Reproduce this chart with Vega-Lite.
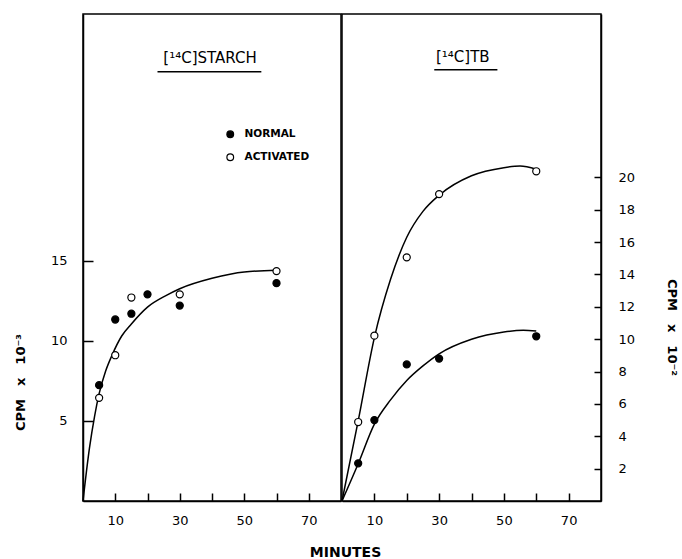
{
  "$schema": "https://vega.github.io/schema/vega-lite/v6.json",
  "padding": {"left": 13, "top": 13, "right": 5, "bottom": 5},
  "background": "white",
  "config": {
    "view": {"stroke": "black", "strokeWidth": 1.5},
    "font": "DejaVu Sans",
    "axis": {
      "domainColor": "black", "domainWidth": 1.5, "tickColor": "black", "tickWidth": 1.5,
      "labelFont": "DejaVu Sans", "labelFontSize": 13, "labelColor": "black",
      "titleFont": "DejaVu Sans", "titleFontSize": 12, "titleFontWeight": "bold", "titleColor": "black",
      "grid": false
    }
  },
  "title": {"text": "MINUTES", "orient": "bottom", "anchor": "middle", "font": "DejaVu Sans", "fontSize": 14, "fontWeight": "bold", "color": "black", "offset": 18, "letterSpacing": 1},
  "datasets": {
    "points": [
      {"panel": "STARCH", "group": "NORMAL", "minute": 5, "cpm": 7.23},
      {"panel": "STARCH", "group": "NORMAL", "minute": 10, "cpm": 11.33},
      {"panel": "STARCH", "group": "NORMAL", "minute": 15, "cpm": 11.69},
      {"panel": "STARCH", "group": "NORMAL", "minute": 20, "cpm": 12.9},
      {"panel": "STARCH", "group": "NORMAL", "minute": 30, "cpm": 12.2},
      {"panel": "STARCH", "group": "NORMAL", "minute": 60, "cpm": 13.6},
      {"panel": "STARCH", "group": "ACTIVATED", "minute": 5, "cpm": 6.44},
      {"panel": "STARCH", "group": "ACTIVATED", "minute": 10, "cpm": 9.1},
      {"panel": "STARCH", "group": "ACTIVATED", "minute": 15, "cpm": 12.7},
      {"panel": "STARCH", "group": "ACTIVATED", "minute": 30, "cpm": 12.9},
      {"panel": "STARCH", "group": "ACTIVATED", "minute": 60, "cpm": 14.35},
      {"panel": "TB", "group": "NORMAL", "minute": 5, "cpm": 2.33},
      {"panel": "TB", "group": "NORMAL", "minute": 10, "cpm": 5.0},
      {"panel": "TB", "group": "NORMAL", "minute": 20, "cpm": 8.44},
      {"panel": "TB", "group": "NORMAL", "minute": 30, "cpm": 8.8},
      {"panel": "TB", "group": "NORMAL", "minute": 60, "cpm": 10.18},
      {"panel": "TB", "group": "ACTIVATED", "minute": 5, "cpm": 4.88},
      {"panel": "TB", "group": "ACTIVATED", "minute": 10, "cpm": 10.22},
      {"panel": "TB", "group": "ACTIVATED", "minute": 20, "cpm": 15.06},
      {"panel": "TB", "group": "ACTIVATED", "minute": 30, "cpm": 18.97},
      {"panel": "TB", "group": "ACTIVATED", "minute": 60, "cpm": 20.38}
    ],
    "curves": [
      {"panel": "STARCH", "curve": "all", "minute": 0, "cpm": 0},
      {"panel": "STARCH", "curve": "all", "minute": 2, "cpm": 3.3},
      {"panel": "STARCH", "curve": "all", "minute": 3.6, "cpm": 5.3},
      {"panel": "STARCH", "curve": "all", "minute": 5, "cpm": 6.7},
      {"panel": "STARCH", "curve": "all", "minute": 7, "cpm": 8.1},
      {"panel": "STARCH", "curve": "all", "minute": 9, "cpm": 9.1},
      {"panel": "STARCH", "curve": "all", "minute": 12, "cpm": 10.3},
      {"panel": "STARCH", "curve": "all", "minute": 15, "cpm": 11.05},
      {"panel": "STARCH", "curve": "all", "minute": 20, "cpm": 12.1},
      {"panel": "STARCH", "curve": "all", "minute": 26, "cpm": 12.85},
      {"panel": "STARCH", "curve": "all", "minute": 30, "cpm": 13.25},
      {"panel": "STARCH", "curve": "all", "minute": 40, "cpm": 13.9},
      {"panel": "STARCH", "curve": "all", "minute": 50, "cpm": 14.3},
      {"panel": "STARCH", "curve": "all", "minute": 60, "cpm": 14.4},
      {"panel": "TB", "curve": "ACTIVATED", "minute": 0, "cpm": 0},
      {"panel": "TB", "curve": "ACTIVATED", "minute": 5, "cpm": 4.95},
      {"panel": "TB", "curve": "ACTIVATED", "minute": 10, "cpm": 10.1},
      {"panel": "TB", "curve": "ACTIVATED", "minute": 15, "cpm": 13.7},
      {"panel": "TB", "curve": "ACTIVATED", "minute": 20, "cpm": 16.3},
      {"panel": "TB", "curve": "ACTIVATED", "minute": 25, "cpm": 17.9},
      {"panel": "TB", "curve": "ACTIVATED", "minute": 30, "cpm": 18.9},
      {"panel": "TB", "curve": "ACTIVATED", "minute": 40, "cpm": 20.1},
      {"panel": "TB", "curve": "ACTIVATED", "minute": 50, "cpm": 20.6},
      {"panel": "TB", "curve": "ACTIVATED", "minute": 55, "cpm": 20.7},
      {"panel": "TB", "curve": "ACTIVATED", "minute": 60, "cpm": 20.5},
      {"panel": "TB", "curve": "NORMAL", "minute": 0, "cpm": 0},
      {"panel": "TB", "curve": "NORMAL", "minute": 5, "cpm": 2.3},
      {"panel": "TB", "curve": "NORMAL", "minute": 10, "cpm": 4.75},
      {"panel": "TB", "curve": "NORMAL", "minute": 15, "cpm": 6.25},
      {"panel": "TB", "curve": "NORMAL", "minute": 20, "cpm": 7.45},
      {"panel": "TB", "curve": "NORMAL", "minute": 25, "cpm": 8.35},
      {"panel": "TB", "curve": "NORMAL", "minute": 30, "cpm": 9.1},
      {"panel": "TB", "curve": "NORMAL", "minute": 40, "cpm": 10.0},
      {"panel": "TB", "curve": "NORMAL", "minute": 50, "cpm": 10.45},
      {"panel": "TB", "curve": "NORMAL", "minute": 56, "cpm": 10.55},
      {"panel": "TB", "curve": "NORMAL", "minute": 60, "cpm": 10.5}
    ]
  },
  "spacing": -4,
  "resolve": {"scale": {"fill": "independent"}, "legend": {"fill": "independent"}},
  "hconcat": [
    {
      "width": 258,
      "height": 487,
      "layer": [
        {
          "data": {"name": "curves"},
          "transform": [{"filter": "datum.panel === 'STARCH'"}],
          "mark": {"type": "line", "interpolate": "monotone", "color": "black", "strokeWidth": 1.5},
          "encoding": {
            "x": {"field": "minute", "type": "quantitative", "scale": {"domain": [0, 80], "nice": false, "zero": false},
              "axis": {"title": null, "values": [10, 20, 30, 40, 50, 60, 70], "labelExpr": "datum.value % 20 == 10 ? datum.label : ''", "tickSize": -8, "labelPadding": 21}},
            "y": {"field": "cpm", "type": "quantitative", "scale": {"domain": [0, 30.4], "nice": false},
              "axis": {"title": "CPM\u2002\u2002x\u2002\u200210\u207b\u00b3", "values": [5, 10, 15], "tickSize": -10, "labelPadding": 26,
                "titleAngle": -90, "titleX": -63, "titleY": 368, "titleAlign": "center", "titleBaseline": "middle", "titleFontSize": 13}},
            "detail": {"field": "curve"}
          }
        },
        {
          "data": {"name": "points"},
          "transform": [{"filter": "datum.panel === 'STARCH'"}],
          "mark": {"type": "point", "filled": true, "stroke": "black", "strokeWidth": 1.2, "size": 50, "opacity": 1},
          "encoding": {
            "x": {"field": "minute", "type": "quantitative"},
            "y": {"field": "cpm", "type": "quantitative"},
            "fill": {"field": "group", "type": "nominal",
              "scale": {"domain": ["NORMAL", "ACTIVATED"], "range": ["black", "white"]},
              "legend": {"orient": "none", "legendX": 142, "legendY": 115, "title": null,
                "symbolType": "circle", "symbolSize": 45, "symbolStrokeColor": "black", "symbolStrokeWidth": 1.2, "symbolOpacity": 1,
                "labelFont": "DejaVu Sans", "labelFontSize": 10.5, "labelFontWeight": "bold", "labelColor": "black",
                "labelOffset": 9, "rowPadding": 10}}
          }
        },
        {
          "data": {"values": [{}]},
          "mark": {"type": "text", "font": "DejaVu Sans", "fontSize": 15, "color": "black", "align": "center", "baseline": "middle"},
          "encoding": {"x": {"datum": 39.4}, "y": {"datum": 27.66}, "text": {"value": "[¹⁴C]STARCH"}}
        },
        {
          "data": {"values": [{}]},
          "mark": {"type": "rule", "color": "black", "strokeWidth": 1.5},
          "encoding": {"x": {"datum": 23.1}, "x2": {"datum": 55.3}, "y": {"datum": 26.8}}
        }
      ]
    },
    {
      "width": 259,
      "height": 487,
      "layer": [
        {
          "data": {"name": "curves"},
          "transform": [{"filter": "datum.panel === 'TB'"}],
          "mark": {"type": "line", "interpolate": "monotone", "color": "black", "strokeWidth": 1.5},
          "encoding": {
            "x": {"field": "minute", "type": "quantitative", "scale": {"domain": [0, 80], "nice": false, "zero": false},
              "axis": {"title": null, "values": [10, 20, 30, 40, 50, 60, 70], "labelExpr": "datum.value % 20 == 10 ? datum.label : ''", "tickSize": -8, "labelPadding": 21}},
            "y": {"field": "cpm", "type": "quantitative", "scale": {"domain": [0, 30.1], "nice": false},
              "axis": {"orient": "right", "title": "CPM\u2002\u2002x\u2002\u200210\u207b\u00b2", "values": [2, 4, 6, 8, 10, 12, 14, 16, 18, 20], "tickSize": -7, "labelPadding": 24,
                "titleAngle": 90, "titleX": 70, "titleY": 313, "titleAlign": "center", "titleBaseline": "middle", "titleFontSize": 13}},
            "detail": {"field": "curve"}
          }
        },
        {
          "data": {"name": "points"},
          "transform": [{"filter": "datum.panel === 'TB'"}],
          "mark": {"type": "point", "filled": true, "stroke": "black", "strokeWidth": 1.2, "size": 50, "opacity": 1},
          "encoding": {
            "x": {"field": "minute", "type": "quantitative"},
            "y": {"field": "cpm", "type": "quantitative"},
            "fill": {"field": "group", "type": "nominal",
              "scale": {"domain": ["NORMAL", "ACTIVATED"], "range": ["black", "white"]}, "legend": null}
          }
        },
        {
          "data": {"values": [{}]},
          "mark": {"type": "text", "font": "DejaVu Sans", "fontSize": 15, "color": "black", "align": "center", "baseline": "middle"},
          "encoding": {"x": {"datum": 37.3}, "y": {"datum": 27.45}, "text": {"value": "[¹⁴C]TB"}}
        },
        {
          "data": {"values": [{}]},
          "mark": {"type": "rule", "color": "black", "strokeWidth": 1.5},
          "encoding": {"x": {"datum": 28.5}, "x2": {"datum": 48}, "y": {"datum": 26.65}}
        }
      ]
    }
  ]
}
